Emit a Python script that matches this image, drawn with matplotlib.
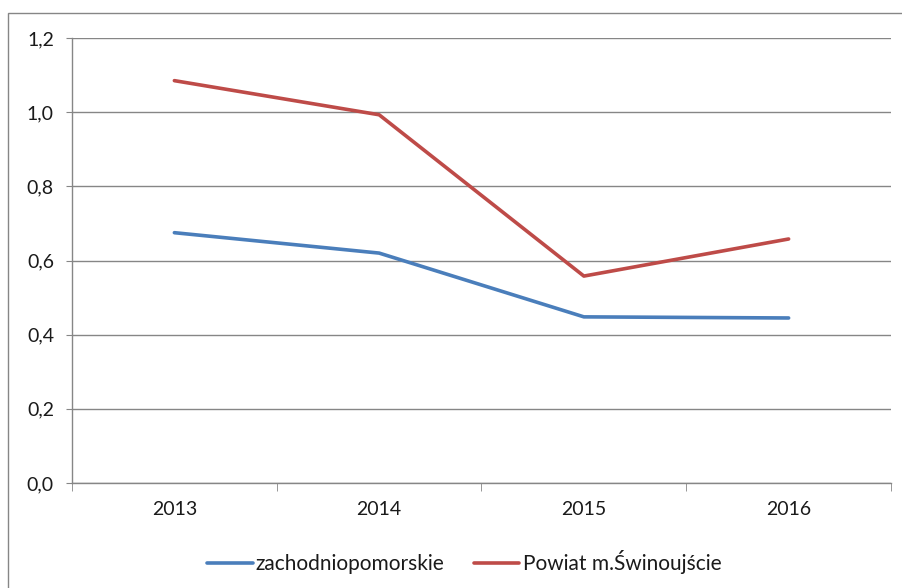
import matplotlib
matplotlib.use("Agg")
import matplotlib.pyplot as plt
from matplotlib.patches import Rectangle

years = ["2013", "2014", "2015", "2016"]
zachodniopomorskie = [0.675, 0.62, 0.448, 0.445]
swinoujscie = [1.085, 0.993, 0.558, 0.658]
series_names = ["zachodniopomorskie", "Powiat m.Świnoujście"]
yticks = [0.0, 0.2, 0.4, 0.6, 0.8, 1.0, 1.2]

plt.rcParams['font.family'] = ['Lato', 'DejaVu Sans']
W, H = 903, 588
fig = plt.figure(figsize=(W / 100, H / 100), dpi=100)
fig.patch.set_facecolor('white')

# outer chart border
fig.add_artist(Rectangle((8 / W, -0.1), 1.2, 1 - 13 / H + 0.1, transform=fig.transFigure,
                         fill=False, edgecolor='#868686', linewidth=1.0))

ax = fig.add_axes([72 / W, (H - 483) / H, (891 - 72) / W, (483 - 38) / H])
x = list(range(len(years)))
grey = '#868686'
ax.plot(x, zachodniopomorskie, color='#4A7EBB', linewidth=2.6, label=series_names[0], solid_capstyle='round')
ax.plot(x, swinoujscie, color='#BE4B48', linewidth=2.6, label=series_names[1], solid_capstyle='round')

ax.set_xlim(-0.5, len(years) - 0.5)
ax.set_ylim(0, 1.2)
ax.set_yticks(yticks)
ax.set_yticklabels([f"{v:.1f}".replace('.', ',') for v in yticks])
ax.set_xticks(x)
ax.set_xticklabels(years)
ax.set_xticks([i - 0.5 for i in range(len(years) + 1)], minor=True)

ax.yaxis.grid(True, color=grey, linewidth=1.0)
ax.set_axisbelow(True)
for s in ['top', 'right']:
    ax.spines[s].set_visible(False)
for s in ['left', 'bottom']:
    ax.spines[s].set_color(grey)
    ax.spines[s].set_linewidth(1.0)

fs = 14
ax.tick_params(axis='y', which='major', length=4, color=grey, pad=9, labelsize=fs, labelcolor='#1a1a1a')
ax.tick_params(axis='x', which='major', length=0, pad=13, labelsize=fs, labelcolor='#1a1a1a')
ax.tick_params(axis='x', which='minor', length=6, color=grey)

fig.legend(loc='center', bbox_to_anchor=(464 / W, 1 - 562 / H), ncol=2, frameon=False,
           fontsize=15, handlelength=2.2, handletextpad=0.15, columnspacing=1.4,
           labelcolor='#1a1a1a')

fig.savefig("out.png", dpi=100)
